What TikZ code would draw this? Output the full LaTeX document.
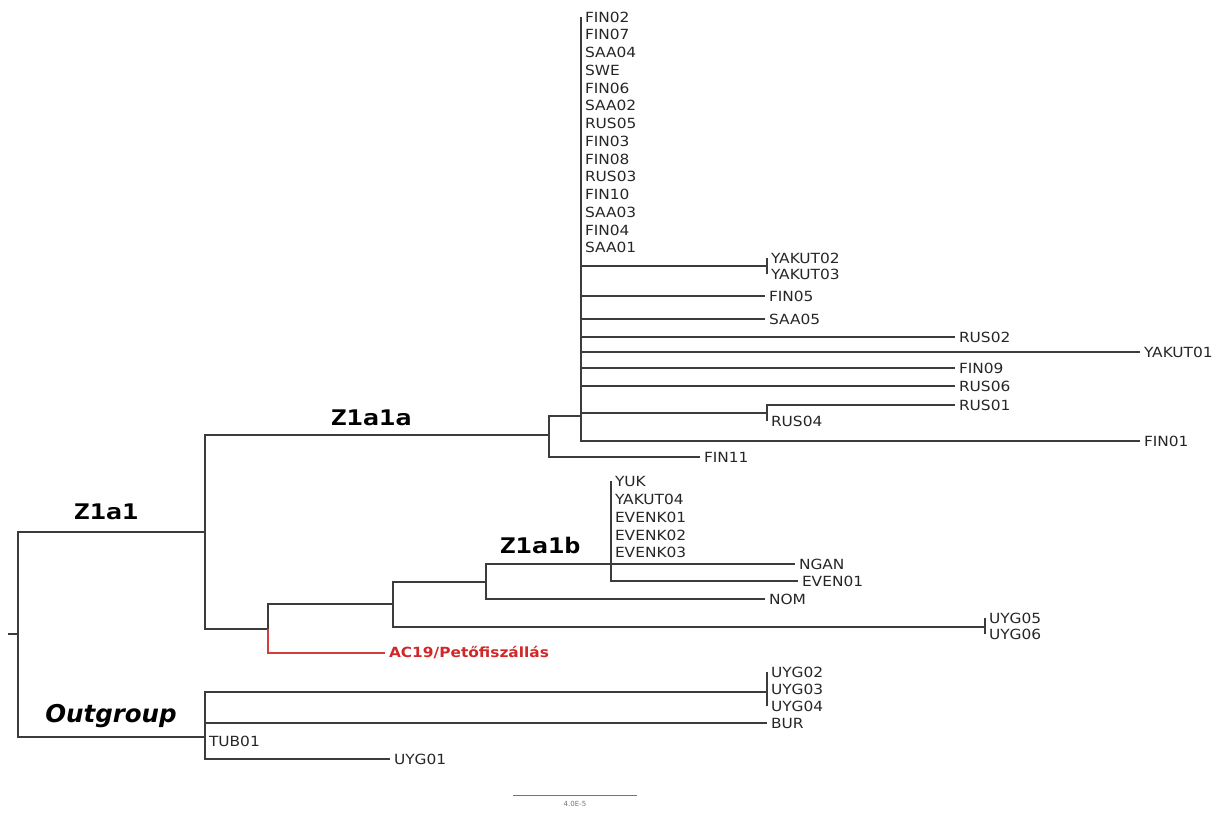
\documentclass[tikz,border=0pt]{standalone}
\usepackage{fontspec}
\setmainfont{DejaVu Sans}
\newfontfamily\leaffont[FakeStretch=1.1]{DejaVu Sans}
\newfontfamily\cladefont[FakeStretch=1.25]{DejaVu Sans Mono}
\definecolor{branchgray}{HTML}{3C3C3C}
\definecolor{acred}{HTML}{D02828}

\begin{document}
\begin{tikzpicture}[
    x=1pt, y=-1pt,
    branch/.style={draw=branchgray, line width=1.3pt},
    leaf/.style={anchor=west, inner xsep=4pt, inner ysep=0pt, outer sep=0pt,
        font=\leaffont\fontsize{14}{16}\selectfont, text=black!85},
    clade/.style={font=\cladefont\bfseries\fontsize{21.5}{24}\selectfont, text=black}
]

\useasboundingbox (0,0) rectangle (1227,812);

% Internal nodes
\coordinate (stub) at (8,634);
\coordinate (root) at (18,634);
\coordinate (z1a1) at (205,532);
\coordinate (z1a1a) at (549,435);
\coordinate (poly) at (581,416);
\coordinate (yak) at (767,266);
\coordinate (rus) at (767,413);
\coordinate (ac) at (268,629);
\coordinate (mid) at (393,604);
\coordinate (z1a1b) at (486,582);
\coordinate (even) at (611,564);
\coordinate (uygb) at (985,627);
\coordinate (out) at (205,737);
\coordinate (uyga) at (767,692);

% Z1a1a tips
\foreach \name [count=\i from 0] in {FIN02,FIN07,SAA04,SWE,FIN06,SAA02,RUS05,FIN03,FIN08,RUS03,FIN10,SAA03,FIN04,SAA01}
    \node[leaf] (p\i) at (581,{17+17.75*\i}) {\name};
\node[leaf] (yakut02) at (767,258) {YAKUT02};
\node[leaf] (yakut03) at (767,274) {YAKUT03};
\node[leaf] (fin05) at (765,296) {FIN05};
\node[leaf] (saa05) at (765,319) {SAA05};
\node[leaf] (rus02) at (955,337) {RUS02};
\node[leaf] (yakut01) at (1140,352) {YAKUT01};
\node[leaf] (fin09) at (955,368) {FIN09};
\node[leaf] (rus06) at (955,386) {RUS06};
\node[leaf] (rus01) at (955,405) {RUS01};
\node[leaf] (rus04) at (767,421) {RUS04};
\node[leaf] (fin01) at (1140,441) {FIN01};
\node[leaf] (fin11) at (700,457) {FIN11};

% Z1a1b tips
\node[leaf] (yuk) at (611,481) {YUK};
\node[leaf] (yakut04) at (611,499) {YAKUT04};
\node[leaf] (evenk01) at (611,517) {EVENK01};
\node[leaf] (evenk02) at (611,535) {EVENK02};
\node[leaf] (evenk03) at (611,552) {EVENK03};
\node[leaf] (ngan) at (795,564) {NGAN};
\node[leaf] (even01) at (798,581) {EVEN01};
\node[leaf] (nom) at (765,599) {NOM};
\node[leaf] (uyg05) at (985,618) {UYG05};
\node[leaf] (uyg06) at (985,634) {UYG06};
\node[leaf, text=acred, font=\leaffont\bfseries\fontsize{14}{16}\selectfont] (ac19) at (385,653) {AC19/Petőfiszállás};

% Outgroup tips
\node[leaf] (uyg02) at (767,672) {UYG02};
\node[leaf] (uyg03) at (767,689) {UYG03};
\node[leaf] (uyg04) at (767,706) {UYG04};
\node[leaf] (bur) at (767,723) {BUR};
\node[leaf] (tub01) at (205,741) {TUB01};
\node[leaf] (uyg01) at (390,759) {UYG01};

% Backbone
\draw[branch] (stub) -- (root);
\draw[branch] (root) |- (z1a1);
\draw[branch] (root) |- (out);
\draw[branch] (z1a1) |- (z1a1a);
\draw[branch] (z1a1) |- (ac);

% Z1a1a
\draw[branch] (z1a1a) |- (poly);
\draw[branch] (z1a1a) |- (fin11.west);
\draw[branch] (p0.west) |- (fin01.west);
\foreach \t in {yak,fin05.west,saa05.west,rus02.west,yakut01.west,fin09.west,rus06.west,rus}
    \draw[branch] (poly) |- (\t);
\draw[branch] (yakut02.west) -- (yakut03.west);
\draw[branch] (rus) |- (rus01.west);
\draw[branch] (rus) -- (rus04.west);

% Z1a1b and AC19
\draw[branch] (ac) |- (mid);
\draw[branch, draw=acred!90, line width=1.2pt] (ac) |- (ac19.west);
\draw[branch] (mid) |- (z1a1b);
\draw[branch] (mid) |- (uygb);
\draw[branch] (uyg05.west) -- (uyg06.west);
\draw[branch] (z1a1b) |- (even);
\draw[branch] (z1a1b) |- (nom.west);
\draw[branch] (even) -- (ngan.west);
\draw[branch] (yuk.west) |- (even01.west);

% Outgroup
\draw[branch] (out) |- (uyga);
\draw[branch] (out) |- (bur.west);
\draw[branch] (out) |- (uyg01.west);
\draw[branch] (uyg02.west) -- (uyg04.west);

% Clade labels
\node[clade] (lz1a1) at (106,512) {Z1a1};
\node[clade] (lz1a1a) at (371,418) {Z1a1a};
\node[clade] (lz1a1b) at (540,545) {Z1a1b};
\node[font=\bfseries\itshape\fontsize{24.5}{28}\selectfont, text=black] (lout) at (111,716) {Outgroup};

% Scale bar
\coordinate (sb1) at (513,795);
\coordinate (sb2) at (637,795);
\draw[black!55, line width=1pt] (sb1) -- (sb2) node[midway, below=2pt, font=\fontsize{7}{8}\selectfont, text=black!55] (sblab) {4.0E-5};

\end{tikzpicture}
\end{document}
